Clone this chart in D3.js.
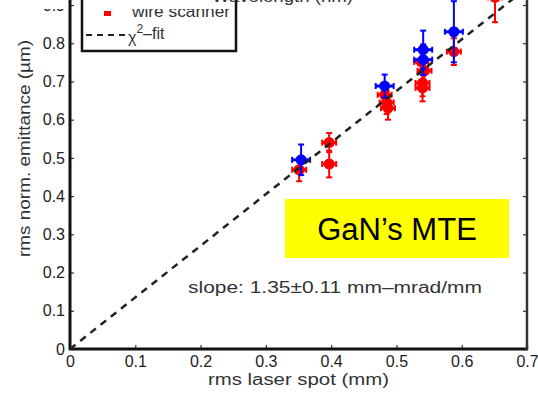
<!DOCTYPE html>
<html>
<head>
<meta charset="utf-8">
<script src="https://cdn.jsdelivr.net/npm/d3@7"></script>
<style>
  body { margin: 0; background: #fff; }
  svg { display: block; font-family: "Liberation Sans", Arial, sans-serif; }
</style>
</head>
<body>
<svg id="chart" width="538" height="394"></svg>
<script>
// tick values / labels
const xTicks = [0, 0.1, 0.2, 0.3, 0.4, 0.5, 0.6, 0.7];
const xTickLabels = ["0", "0.1", "0.2", "0.3", "0.4", "0.5", "0.6", "0.7"];
const yTicks = [0, 0.1, 0.2, 0.3, 0.4, 0.5, 0.6, 0.7, 0.8, 0.9];
const yTickLabels = ["0", "0.1", "0.2", "0.3", "0.4", "0.5", "0.6", "0.7", "0.8", "0.9"];

// wire scanner points (red)
const redX = [0.351, 0.397, 0.397, 0.482, 0.485, 0.487, 0.538, 0.543, 0.540, 0.540, 0.588, 0.651];
const redY = [0.469, 0.540, 0.484, 0.665, 0.645, 0.630, 0.751, 0.728, 0.696, 0.683, 0.778, 0.920];
const redErrY = [0.030, 0.025, 0.035, 0.030, 0.030, 0.030, 0.030, 0.030, 0.035, 0.035, 0.035, 0.065];

// other measurement (blue)
const blueX = [0.354, 0.482, 0.541, 0.541, 0.588];
const blueY = [0.495, 0.688, 0.783, 0.757, 0.830];
const blueErrY = [0.040, 0.030, 0.050, 0.040, 0.080];

// chi2 fit
const fitSlope = 1.35;
const fitX = [0, 0.7];

const svg = d3.select("#chart");

const x = d3.scaleLinear().domain([0, 0.7]).range([70, 527]);
const y = d3.scaleLinear().domain([0, 0.9]).range([349, 5]);

// top part of the picture is cropped: 0.9 label only partly visible
svg.append("defs").append("clipPath").attr("id", "topclip")
    .append("rect").attr("x", 0).attr("y", 9).attr("width", 538).attr("height", 400);

// axes
const tickColor = "#222";

let xAxis = svg.append("g")
    .attr("transform", "translate(0,349)")
    .call(d3.axisBottom(x).tickValues(xTicks).tickSize(-4).tickPadding(6)
        .tickFormat((d, i) => xTickLabels[i]));

let yAxis = svg.append("g")
    .attr("transform", "translate(70,0)")
    .call(d3.axisLeft(y).tickValues(yTicks).tickSize(-4).tickPadding(5)
        .tickFormat((d, i) => d == 0.9 ? "" : yTickLabels[i]));

let rAxis = svg.append("g")
    .attr("transform", "translate(527,0)")
    .call(d3.axisRight(y).tickValues(yTicks).tickSize(-4).tickFormat(""));

[xAxis, yAxis, rAxis].forEach(function (a) {
    a.select(".domain").remove();
    a.selectAll("line").attr("stroke", "#333").attr("stroke-width", 1.2);
    a.selectAll("text").style("font-size", "16px").style("fill", tickColor)
        .style("font-family", "Liberation Sans, Arial, sans-serif");
});
xAxis.selectAll("text").attr("dy", "0.75em");

svg.append("text")
    .attr("x", 65).attr("y", y(0.9) + 6).attr("text-anchor", "end")
    .attr("clip-path", "url(#topclip)")
    .style("font-size", "16px").style("fill", tickColor)
    .text(yTickLabels[9]);

// frame
svg.append("line").attr("x1", 70).attr("x2", 70).attr("y1", 0).attr("y2", 350)
    .attr("stroke", "#111").attr("stroke-width", 3);
svg.append("line").attr("x1", 69).attr("x2", 528).attr("y1", 349).attr("y2", 349)
    .attr("stroke", "#111").attr("stroke-width", 3);
svg.append("line").attr("x1", 527).attr("x2", 527).attr("y1", 0).attr("y2", 350)
    .attr("stroke", "#333").attr("stroke-width", 2.5);

// axis titles
svg.append("text")
    .attr("x", 208).attr("y", 385)
    .attr("textLength", 181).attr("lengthAdjust", "spacingAndGlyphs")
    .style("font-size", "16px").style("fill", "#333")
    .text("rms laser spot (mm)");

svg.append("text")
    .attr("transform", "translate(30,257) rotate(-90)")
    .attr("textLength", 217).attr("lengthAdjust", "spacingAndGlyphs")
    .style("font-size", "17px").style("fill", "#333")
    .text("rms norm. emittance (\u00b5m)");

// error bars + markers
function drawPoints(xs, ys, errs, color, hw, r) {
    let g = svg.append("g");
    xs.forEach(function (xv, i) {
        let px = x(xv), py = y(ys[i]);
        let top = y(ys[i] + errs[i]), bot = y(ys[i] - errs[i]);
        g.append("line").attr("x1", px).attr("x2", px).attr("y1", top).attr("y2", bot)
            .attr("stroke", color).attr("stroke-width", 2);
        [top, bot].forEach(function (cy) {
            g.append("line").attr("x1", px - 3).attr("x2", px + 3).attr("y1", cy).attr("y2", cy)
                .attr("stroke", color).attr("stroke-width", 2);
        });
        g.append("line").attr("x1", px - hw).attr("x2", px + hw).attr("y1", py).attr("y2", py)
            .attr("stroke", color).attr("stroke-width", 3);
        [px - hw, px + hw].forEach(function (cx) {
            g.append("line").attr("x1", cx).attr("x2", cx).attr("y1", py - 3).attr("y2", py + 3)
                .attr("stroke", color).attr("stroke-width", 2);
        });
        g.append("circle").attr("cx", px).attr("cy", py).attr("r", r).attr("fill", color);
    });
}

drawPoints(redX, redY, redErrY, "#f00", 7, 5.5);
drawPoints(blueX, blueY, blueErrY, "#00f", 9, 5.5);

// fit line
svg.append("line")
    .attr("x1", x(fitX[0])).attr("y1", y(fitX[0] * fitSlope))
    .attr("x2", x(fitX[1])).attr("y2", y(fitX[1] * fitSlope))
    .attr("stroke", "#222").attr("stroke-width", 2.5)
    .attr("stroke-dasharray", "7,6");

// slope annotation
svg.append("text")
    .attr("x", 188).attr("y", 293)
    .attr("textLength", 294).attr("lengthAdjust", "spacingAndGlyphs")
    .style("font-size", "16px").style("fill", "#333")
    .text("slope: 1.35\u00b10.11 mm\u2013mrad/mm");

// yellow label box
svg.append("rect").attr("x", 285).attr("y", 199).attr("width", 224).attr("height", 59)
    .attr("fill", "#ffff00");
svg.append("text")
    .attr("x", 397).attr("y", 240).attr("text-anchor", "middle")
    .style("font-size", "31px").style("fill", "#000")
    .text("GaN\u2019s MTE");

// legend
let legend = svg.append("g");
legend.append("rect").attr("x", 82).attr("y", -20).attr("width", 154).attr("height", 71)
    .attr("fill", "#fff").attr("stroke", "#111").attr("stroke-width", 2.5);
legend.append("rect").attr("x", 104).attr("y", 11).attr("width", 7).attr("height", 5).attr("fill", "#f00");
legend.append("text").attr("x", 132).attr("y", 17)
    .attr("textLength", 98).attr("lengthAdjust", "spacingAndGlyphs")
    .attr("clip-path", "url(#topclip)")
    .style("font-size", "16px").style("fill", "#333").text("wire scanner");
legend.append("line").attr("x1", 86).attr("x2", 127).attr("y1", 35).attr("y2", 35)
    .attr("stroke", "#222").attr("stroke-width", 2).attr("stroke-dasharray", "6,5");
let chi = legend.append("text").attr("x", 128).attr("y", 43)
    .style("font-size", "16px").style("fill", "#333");
chi.append("tspan").text("\u03c7");
chi.append("tspan").attr("dy", -10).style("font-size", "12px").text("2");
chi.append("tspan").attr("dy", 6).text("\u2013fit");

// top label left over from the plot above (cropped)
svg.append("text")
    .attr("x", 212).attr("y", 2)
    .attr("textLength", 141).attr("lengthAdjust", "spacingAndGlyphs")
    .style("font-size", "16px").style("fill", "#333")
    .text("Wavelength (nm)");
</script>
</body>
</html>
